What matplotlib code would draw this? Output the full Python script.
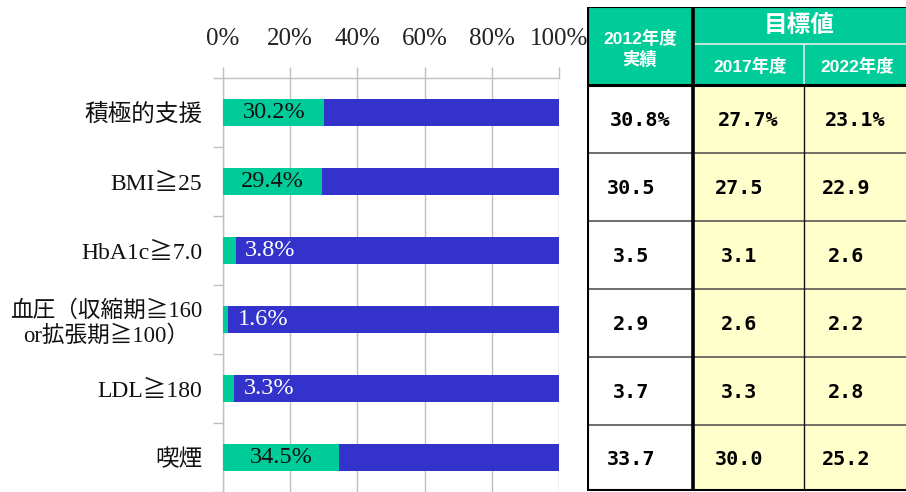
import matplotlib
matplotlib.use("Agg")
import matplotlib.pyplot as plt
from matplotlib.patches import Rectangle

# ---------------- data ----------------
categories = ["積極的支援", "BMI≧25", "HbA1c≧7.0",
              "血圧（収縮期≧160\nor拡張期≧100）", "LDL≧180", "喫煙"]
share_pct = [30.2, 29.4, 3.8, 1.6, 3.3, 34.5]
x_ticks = [0, 20, 40, 60, 80, 100]
x_tick_labels = ["0%", "20%", "40%", "60%", "80%", "100%"]

table_header_left = "2012年度\n実績"
table_header_group = "目標値"
table_header_years = ["2017年度", "2022年度"]
actual_2012 = [30.8, 30.5, 3.5, 2.9, 3.7, 33.7]
target_2017 = [27.7, 27.5, 3.1, 2.6, 3.3, 30.0]
target_2022 = [23.1, 22.9, 2.6, 2.2, 2.8, 25.2]

GREEN = "#00CC99"
BLUE = "#3333CC"
YELLOW = "#FFFFCC"
GRID = "#BFBFBF"

W, H = 906, 492
fig = plt.figure(figsize=(W / 100, H / 100), dpi=100)

label_font = ["Liberation Serif", "Noto Sans CJK JP", "DejaVu Sans"]

# ---------------- bar chart ----------------
ax_l, ax_r, ax_t = 223, 559, 78
row_px = 70
ax = fig.add_axes([ax_l / W, 0, (ax_r - ax_l) / W, (H - ax_t) / H])
ypos = list(range(len(categories)))
rest = [100 - v for v in share_pct]
ax.barh(ypos, share_pct, height=0.4, color=GREEN, zorder=3)
ax.barh(ypos, rest, left=share_pct, height=0.4, color=BLUE, zorder=3)
ax.set_xlim(0, 100)
ax.set_ylim(-0.5 + (H - ax_t) / row_px, -0.5)

ax.xaxis.tick_top()
ax.set_xticks(x_ticks)
ax.set_xticklabels(x_tick_labels, family=label_font, fontsize=18, color="#222222")
ax.tick_params(axis="x", length=8, color=GRID, width=1, pad=12, direction="out")
ax.grid(axis="x", color=GRID, linewidth=1, zorder=0)

ax.set_yticks(ypos)
ax.set_yticklabels(categories, family=label_font, fontsize=17, color="#111111",
                   multialignment="center", linespacing=1.2)
ax.set_yticks([i - 0.5 for i in range(len(categories) + 1)], minor=True)
ax.tick_params(axis="y", which="major", length=0, pad=15)
ax.tick_params(axis="y", which="minor", length=7, color=GRID, width=1, direction="out")
for t in ax.get_yticklabels():
    if "\n" in t.get_text():
        t.set_fontsize(16.3)

for s in ["right", "bottom"]:
    ax.spines[s].set_visible(False)
for s in ["left", "top"]:
    ax.spines[s].set_color(GRID)
    ax.spines[s].set_linewidth(1)

for y, v in zip(ypos, share_pct):
    if v > 10:
        ax.text(v / 2, y, f"{v:.1f}%", ha="center", va="center",
                family=label_font, fontsize=17.5, color="#111111", zorder=4)
    else:
        ax.text(v + 2.8, y, f"{v:.1f}%", ha="left", va="center",
                family=label_font, fontsize=17.5, color="white", zorder=4)

# ---------------- table ----------------
tx0, tx1 = 587, 906
ty0, ty1 = 7, 491
tab = fig.add_axes([tx0 / W, (H - ty1) / H, (tx1 - tx0) / W, (ty1 - ty0) / H])
tab.set_xlim(tx0, tx1)
tab.set_ylim(ty1, ty0)
tab.axis("off")

col_x = [587, 693, 804, 906]
hdr_mid, hdr_bot = 44, 85
row_y = [85, 153, 221, 289, 357, 425, 491]

tab.add_patch(Rectangle((col_x[0], ty0), col_x[3] - col_x[0], hdr_bot - ty0,
                        facecolor=GREEN, edgecolor="none"))
tab.add_patch(Rectangle((col_x[0], hdr_bot), col_x[1] - col_x[0], ty1 - hdr_bot,
                        facecolor="white", edgecolor="none"))
tab.add_patch(Rectangle((col_x[1], hdr_bot), col_x[3] - col_x[1], ty1 - hdr_bot,
                        facecolor=YELLOW, edgecolor="none"))

# header lines (white inside)
tab.plot([col_x[1], col_x[3]], [hdr_mid, hdr_mid], color="#DDEEE8", lw=1.2)
tab.plot([col_x[2], col_x[2]], [hdr_mid, hdr_bot], color="#DDEEE8", lw=1.2)
# body lines
for y in row_y[1:-1]:
    tab.plot([col_x[0], col_x[3]], [y, y], color="#555555", lw=1.2)
tab.plot([col_x[2], col_x[2]], [hdr_bot, ty1], color="#111111", lw=1.0)
# borders
tab.plot([col_x[0], col_x[3]], [ty0 + 0.5, ty0 + 0.5], color="black", lw=1.5)
tab.plot([col_x[0], col_x[3]], [hdr_bot, hdr_bot], color="black", lw=2.2)
tab.plot([col_x[0], col_x[3]], [ty1 - 1, ty1 - 1], color="black", lw=1.5)
tab.plot([col_x[0] + 0.5, col_x[0] + 0.5], [ty0, ty1], color="black", lw=1.5)
tab.plot([col_x[1], col_x[1]], [ty0, ty1], color="black", lw=2.6)

hdr_font = ["Liberation Sans", "Noto Sans CJK JP", "DejaVu Sans"]
tab.text((col_x[0] + col_x[1]) / 2, 49, table_header_left, ha="center", va="center",
         family=hdr_font, fontsize=12.5, fontweight="bold", color="white",
         linespacing=1.25)
tab.text((col_x[1] + col_x[3]) / 2, 26, table_header_group, ha="center", va="center",
         family=hdr_font, fontsize=17, fontweight="bold", color="white")
for i, lab in enumerate(table_header_years):
    tab.text((col_x[1 + i] + col_x[2 + i]) / 2 + 2, 67, lab, ha="center", va="center",
             family=hdr_font, fontsize=12.5, fontweight="bold", color="white")

num_font = "DejaVu Sans Mono"
for c, col_vals in enumerate([actual_2012, target_2017, target_2022]):
    cx = (col_x[c] + col_x[c + 1]) / 2
    for r, v in enumerate(col_vals):
        cy = (row_y[r] + row_y[r + 1]) / 2 + 1
        if r == 0:
            s, dx = f"{v:.1f}%", 0
        else:
            s, dx = f"{v:.1f}", -9
        tab.text(cx + dx, cy, s, ha="center", va="center", family=num_font,
                 fontsize=14.5, fontweight="bold", color="black")

fig.savefig("out.png", dpi=100)
